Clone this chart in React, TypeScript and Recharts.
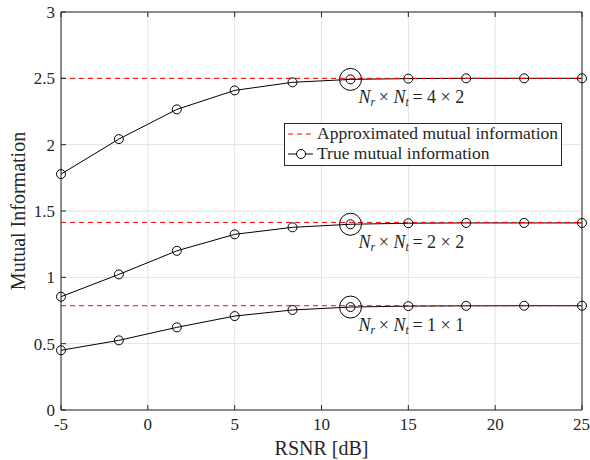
import React from 'react';
import { LineChart, Line, XAxis, YAxis, CartesianGrid, ReferenceLine, ReferenceDot, Legend } from 'recharts';

const rsnr = [-5, -1.67, 1.67, 5, 8.33, 11.67, 15, 18.33, 21.67, 25];
const true42 = [1.778, 2.042, 2.266, 2.409, 2.47, 2.492, 2.498, 2.5, 2.5, 2.5];
const true22 = [0.854, 1.022, 1.2, 1.324, 1.377, 1.4, 1.408, 1.41, 1.41, 1.41];
const true11 = [0.45, 0.525, 0.623, 0.708, 0.754, 0.776, 0.783, 0.785, 0.786, 0.786];
const approx = [2.5, 1.414, 0.786];
const sizes = ['4 × 2', '2 × 2', '1 × 1'];
const markX = 11.67;
const xTicks = [-5, 0, 5, 10, 15, 20, 25];
const yTicks = [0, 0.5, 1, 1.5, 2, 2.5, 3];

const data = rsnr.map((x, i) => ({ x, t42: true42[i], t22: true22[i], t11: true11[i] }));
const marks = [true42[5], true22[5], true11[5]];

const FONT = 'Liberation Serif';
const INK = '#262626';

// N_r x N_t = a x b, set under each big marker
const SizeLabel = ({ viewBox, text }: any) => {
  const cx = viewBox.x + viewBox.width / 2;
  const cy = viewBox.y + viewBox.height / 2;
  return (
    <text x={cx + 8} y={cy + 24} fontFamily={FONT} fontSize={18} fill={INK}>
      <tspan fontStyle="italic">N</tspan>
      <tspan fontStyle="italic" fontSize={12} dy={3}>r</tspan>
      <tspan dy={-3}>{'\u2009× '}</tspan>
      <tspan fontStyle="italic">N</tspan>
      <tspan fontStyle="italic" fontSize={12} dy={3}>t</tspan>
      <tspan dy={-3}>{'\u2009= '}{text}</tspan>
    </text>
  );
};

const LegendBox = () => (
  <div
    style={{
      position: 'absolute', left: 284, top: 123, width: 276, height: 41,
      border: `1px solid ${INK}`, background: '#fff', boxSizing: 'content-box',
    }}
  >
    <svg width={276} height={41} style={{ position: 'absolute', left: 0, top: 0 }}>
      <line x1={3} x2={28} y1={10} y2={10} stroke="#ff0000" strokeDasharray="5 4" />
      <line x1={3} x2={28} y1={30} y2={30} stroke="#000" />
      <circle cx={16} cy={30} r={4.5} fill="#fff" stroke="#000" />
      <text x={32} y={15} fontFamily={FONT} fontSize={17.5} fill={INK}>Approximated mutual information</text>
      <text x={32} y={35} fontFamily={FONT} fontSize={17.5} fill={INK}>True mutual information</text>
    </svg>
  </div>
);

const tickStyle = { fontFamily: FONT, fontSize: 17, fill: INK };

export default function App() {
  return (
    <div style={{ position: 'absolute', left: 0, top: 0, width: 590, height: 460, background: '#fff' }}>
      <LineChart width={590} height={460} data={data} margin={{ top: 0, right: 0, bottom: 0, left: 0 }}>
        <CartesianGrid stroke="#e3e3e3" />
        <XAxis
          type="number" dataKey="x" domain={[-5, 25]} ticks={xTicks} height={50}
          stroke={INK} tickSize={-5} tickMargin={13}
          tick={tickStyle}
          label={{ value: 'RSNR [dB]', position: 'insideBottom', offset: 5, fontFamily: FONT, fontSize: 20, fill: INK }}
        />
        <XAxis
          xAxisId="top" orientation="top" type="number" dataKey="x" domain={[-5, 25]} ticks={xTicks}
          height={12} stroke={INK} tickSize={-5} tickFormatter={() => ''}
        />
        <YAxis
          type="number" domain={[0, 3]} ticks={yTicks} width={61}
          stroke={INK} tickSize={-5} tickMargin={11}
          tick={tickStyle}
          label={{ value: 'Mutual Information', angle: -90, position: 'insideLeft', offset: 18, fontFamily: FONT, fontSize: 20, fill: INK, style: { textAnchor: 'middle' } }}
        />
        <YAxis
          yAxisId="right" orientation="right" type="number" domain={[0, 3]} ticks={yTicks}
          width={8} stroke={INK} tickSize={-5} tickFormatter={() => ''}
        />
        <Line dataKey="t42" stroke="#000" strokeWidth={1} dot={{ r: 4.5, fill: 'none', stroke: '#000', strokeWidth: 1 }} isAnimationActive={false} />
        <Line dataKey="t22" stroke="#000" strokeWidth={1} dot={{ r: 4.5, fill: 'none', stroke: '#000', strokeWidth: 1 }} isAnimationActive={false} />
        <Line dataKey="t11" stroke="#000" strokeWidth={1} dot={{ r: 4.5, fill: 'none', stroke: '#000', strokeWidth: 1 }} isAnimationActive={false} />
        {approx.map((v) => (
          <ReferenceLine key={v} y={v} stroke="#ff0000" strokeDasharray="5 4" />
        ))}
        {marks.map((v, i) => (
          <ReferenceDot key={i} x={markX} y={v} r={11} fill="none" stroke="#000" strokeWidth={1}
            label={<SizeLabel text={sizes[i]} />} />
        ))}
        <Legend content={() => null} />
      </LineChart>
      <LegendBox />
    </div>
  );
}
